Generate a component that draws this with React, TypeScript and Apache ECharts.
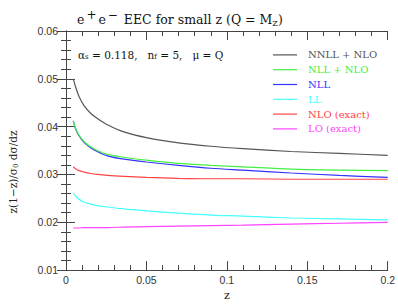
import React, { useEffect, useRef } from "react";
import * as echarts from "echarts";

const zValues = [0.0045, 0.006, 0.0081, 0.0112, 0.0153, 0.0195, 0.0257, 0.036, 0.05, 0.07, 0.09, 0.11, 0.14, 0.17, 0.2];
const nnllNlo = [0.05, 0.0483, 0.0463, 0.0444, 0.0428, 0.0417, 0.0404, 0.0389, 0.0377, 0.0366, 0.0359, 0.0354, 0.0348, 0.0344, 0.034];
const nllNlo = [0.0412, 0.0396, 0.0382, 0.0369, 0.0358, 0.035, 0.0342, 0.0336, 0.033, 0.0323, 0.0319, 0.0316, 0.0311, 0.0309, 0.0308];
const nll = [0.0412, 0.0395, 0.0381, 0.0367, 0.0356, 0.0348, 0.0339, 0.0332, 0.0326, 0.0319, 0.0313, 0.0309, 0.0303, 0.0298, 0.0294];
const ll = [0.0261, 0.0255, 0.0248, 0.0242, 0.0238, 0.0235, 0.0232, 0.0228, 0.0224, 0.0219, 0.0215, 0.0213, 0.0209, 0.0207, 0.0205];
const nloExact = [0.0316, 0.0312, 0.0308, 0.0305, 0.0302, 0.03, 0.0298, 0.0296, 0.0294, 0.0292, 0.0291, 0.0291, 0.029, 0.029, 0.029];
const loExact = [0.0188, 0.0188, 0.0188, 0.0189, 0.0189, 0.0189, 0.0189, 0.019, 0.0191, 0.0192, 0.0193, 0.0194, 0.0196, 0.0198, 0.02];

const seriesNames = ["NNLL + NLO", "NLL + NLO", "NLL", "LL", "NLO (exact)", "LO (exact)"];
const seriesColors = ["#555555", "#44ee44", "#3333ff", "#44ffff", "#ff4444", "#ff44ff"];
const seriesValues = [nnllNlo, nllNlo, nll, ll, nloExact, loExact];

const serif = "'DejaVu Serif', 'Liberation Serif', serif";
const sans = "'Liberation Sans', Arial, sans-serif";

export default function App() {
  const ref = useRef<HTMLDivElement>(null);
  useEffect(() => {
    if (!ref.current) return;
    const chart = echarts.init(ref.current, null, { renderer: "svg" });
    const frame = { show: true, lineStyle: { color: "#444", width: 1 } };
    const tick = (len: number) => ({ show: true, inside: true, length: len, lineStyle: { color: "#444" } });
    const xAx = (pos: string, interval: number, len: number, extra: any = {}) => ({
      type: "value",
      min: 0,
      max: 0.2,
      interval,
      position: pos,
      splitLine: { show: false },
      axisLine: len > 6 ? frame : { show: false },
      axisTick: tick(len),
      axisLabel: { show: false },
      ...extra,
    });
    const yAx = (pos: string, interval: number, len: number, extra: any = {}) => ({
      type: "value",
      min: 0.01,
      max: 0.06,
      interval,
      position: pos,
      splitLine: { show: false },
      axisLine: len > 6 ? frame : { show: false },
      axisTick: tick(len),
      axisLabel: { show: false },
      ...extra,
    });
    chart.setOption({
      animation: false,
      backgroundColor: "#ffffff",
      grid: { left: 66, right: 10, top: 31, bottom: 28 },
      title: {
        text: "e{sup|+}e{sup|\u2212} EEC for small z (Q = M{sub|Z})",
        left: 72,
        top: 4,
        textStyle: {
          fontFamily: serif,
          fontSize: 12.5,
          fontWeight: "normal",
          color: "#111",
          rich: {
            sup: { fontFamily: serif, fontSize: 12, verticalAlign: "top", padding: [0, 2, 8, 2], color: "#111" },
            sub: { fontFamily: serif, fontSize: 8, padding: [8, 0, 0, 0], color: "#111" },
          },
        },
      },
      legend: {
        orient: "vertical",
        left: 268,
        top: 43,
        icon: "rect",
        itemWidth: 24,
        itemHeight: 1.2,
        itemGap: 1,
        textStyle: { fontFamily: serif, fontSize: 10, lineHeight: 13.8, padding: [0, 0, 0, 6] },
        data: seriesNames.map((n, i) => ({ name: n, textStyle: { color: seriesColors[i] } })),
      },
      xAxis: [
        xAx("bottom", 0.05, 9, {
          name: "z",
          nameLocation: "middle",
          nameGap: 19,
          nameTextStyle: { fontFamily: serif, fontSize: 11, color: "#222" },
          axisLabel: {
            show: true,
            fontFamily: sans,
            fontSize: 10.5,
            color: "#333",
            margin: 4,
            formatter: (v: number) => String(Number(v.toFixed(2))),
          },
        }),
        xAx("top", 0.05, 9),
        xAx("bottom", 0.01, 5),
        xAx("top", 0.01, 5),
      ],
      yAxis: [
        yAx("left", 0.01, 9, {
          axisLabel: {
            show: true,
            fontFamily: sans,
            fontSize: 10.5,
            color: "#333",
            margin: 8,
            formatter: (v: number) => v.toFixed(2),
          },
        }),
        yAx("right", 0.01, 9),
        yAx("left", 0.002, 5),
        yAx("right", 0.002, 5),
      ],
      graphic: [
        {
          type: "text",
          left: 78,
          top: 49,
          style: {
            text: "{t|\u03b1}{s|s}{t| = 0.118,   n}{s|f}{t| = 5,   \u03bc = Q}",
            rich: {
              t: { fontFamily: serif, fontSize: 10.5, fill: "#111" },
              s: { fontFamily: serif, fontSize: 7, fill: "#111", padding: [5, 0, 0, 0] },
            },
          },
        },
        {
          type: "text",
          x: 13,
          y: 172,
          rotation: Math.PI / 2,
          style: {
            text: "z(1\u2212z)/\u03c3{s|0} d\u03c3/dz",
            fontFamily: serif,
            fontSize: 10.5,
            fill: "#222",
            align: "center",
            verticalAlign: "middle",
            rich: { s: { fontFamily: serif, fontSize: 7, fill: "#222", padding: [5, 0, 0, 0] } },
          },
        },
      ],
      series: seriesNames.map((n, i) => ({
        name: n,
        type: "line",
        xAxisIndex: 0,
        yAxisIndex: 0,
        symbol: "none",
        smooth: 0.3,
        color: seriesColors[i],
        lineStyle: { color: seriesColors[i], width: 1.2 },
        data: zValues.map((z, k) => [z, seriesValues[i][k]]),
        z: 10 - i,
      })),
    });
    return () => chart.dispose();
  }, []);
  return <div ref={ref} style={{ width: 398, height: 306, position: "absolute", left: 0, top: 0 }} />;
}
